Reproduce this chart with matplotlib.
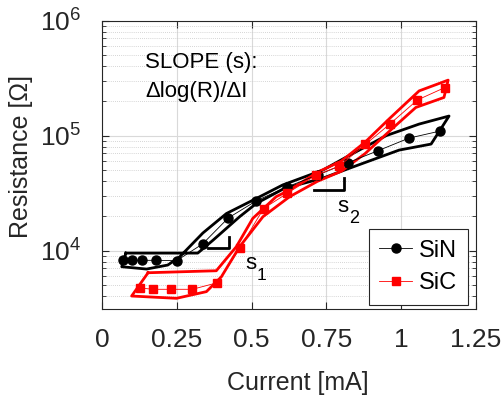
import numpy as np
import matplotlib
matplotlib.use("Agg")
import matplotlib.pyplot as plt
from matplotlib.ticker import LogLocator, NullFormatter, FixedLocator

# ── Dados ───────────────────────────────────────────────────────────────────
sin_i = [0.069, 0.099, 0.132, 0.180, 0.249, 0.336, 0.422, 0.516, 0.617,
         0.721, 0.821, 0.922, 1.026, 1.129]
sin_r = [8220, 8220, 8220, 8220, 8150, 11400, 19200, 27100, 35700,
         45400, 58000, 73800, 95100, 109400]

sic_i = [0.127, 0.171, 0.229, 0.302, 0.386, 0.460, 0.540, 0.620, 0.716,
         0.793, 0.880, 0.962, 1.054, 1.146]
sic_r = [4720, 4600, 4600, 4600, 5250, 10450, 23200, 31600, 45300,
         54300, 83700, 126000, 204000, 262000]

# envoltórias (duas curvas de contorno por material)
sin_env_a_i = [0.080, 0.320, 0.371, 0.460, 0.516, 0.610, 0.737, 0.827, 0.993, 1.100]
sin_env_a_r = [9500, 9500, 12300, 19700, 25700, 34800, 42500, 52000, 74800, 84400]
sin_env_b_i = [0.066, 0.149, 0.220, 0.260, 0.337, 0.416, 0.516, 0.604, 0.738,
               0.830, 0.900, 0.950, 1.060, 1.160]
sin_env_b_r = [7230, 6900, 7480, 8830, 14200, 21000, 28400, 37200, 50100,
               68000, 85000, 100000, 126000, 148000]

sic_env_a_i = [0.154, 0.382, 0.449, 0.504, 0.582, 0.627, 0.720, 0.800, 0.880,
               0.960, 1.060, 1.157]
sic_env_a_r = [6410, 6670, 10800, 19050, 29400, 33600, 48000, 60000, 88000,
               140000, 245000, 304000]
sic_env_b_i = [0.099, 0.249, 0.349, 0.399, 0.460, 0.538, 0.627, 0.720, 0.800,
               0.880, 0.971, 1.049, 1.143]
sic_env_b_r = [4020, 3840, 4390, 5910, 10800, 19700, 29400, 40000, 49000,
               70000, 115600, 175800, 214800]

# marcadores de inclinação
s1_i = [0.354, 0.424, 0.424]
s1_r = [10580, 10580, 13000]
s2_i = [0.707, 0.808, 0.808]
s2_r = [33600, 33600, 42400]

x_ticks = [0, 0.25, 0.5, 0.75, 1, 1.25]
x_labels = ["0", "0.25", "0.5", "0.75", "1", "1.25"]


def fechar(ai, ar, bi, br):
    xs = list(ai) + list(bi[::-1]) + [ai[0]]
    ys = list(ar) + list(br[::-1]) + [ar[0]]
    return xs, ys


plt.rcParams.update({
    "font.family": ["Liberation Sans", "DejaVu Sans"],
    "mathtext.fontset": "custom",
    "mathtext.rm": "Liberation Sans",
    "mathtext.default": "regular",
})

fig = plt.figure(figsize=(5.04, 4.0), dpi=100)
ax = fig.add_axes([0.2024, 0.2263, 0.7420, 0.7220])

RED = "#ff0000"
ax.plot(*fechar(sin_env_a_i, sin_env_a_r, sin_env_b_i, sin_env_b_r),
        color="black", lw=2.0, zorder=3)
ax.plot(*fechar(sic_env_a_i, sic_env_a_r, sic_env_b_i, sic_env_b_r),
        color=RED, lw=2.0, zorder=3)
ax.plot(sin_i, sin_r, "-o", color="black", lw=0.6, ms=6.5,
        label="SiN", zorder=4)
ax.plot(sic_i, sic_r, "-s", color=RED, lw=0.6, ms=5.5,
        label="SiC", zorder=4)

ax.plot(s1_i, s1_r, color="black", lw=2.0, zorder=3)
ax.plot(s2_i, s2_r, color="black", lw=2.0, zorder=3)

ax.set_yscale("log")
ax.set_xlim(0, 1.25)
ax.set_ylim(3070, 1e6)
ax.xaxis.set_major_locator(FixedLocator(x_ticks))
ax.set_xticklabels(x_labels)
ax.yaxis.set_major_locator(LogLocator(base=10, numticks=10))
ax.yaxis.set_minor_locator(LogLocator(base=10, subs=np.arange(2, 10), numticks=20))
ax.yaxis.set_minor_formatter(NullFormatter())

ax.grid(True, which="major", color="#d9d9d9", lw=0.8, zorder=0)
ax.grid(True, which="minor", axis="y", color="#c8c8c8", lw=0.6,
        linestyle=(0, (1, 1.5)), zorder=0)
ax.set_axisbelow(True)

ax.tick_params(which="both", direction="in", top=True, right=True,
               colors="#262626", labelcolor="#262626")
ax.tick_params(which="major", length=5, labelsize=19)
ax.tick_params(axis="x", pad=13)
ax.tick_params(axis="y", pad=15)
ax.tick_params(which="minor", length=3)
for sp in ax.spines.values():
    sp.set_color("#262626")
    sp.set_linewidth(0.8)

ax.set_xlabel("Current [mA]", fontsize=18, color="#262626")
ax.set_ylabel("Resistance [Ω]", fontsize=18, color="#262626")
ax.xaxis.set_label_coords(0.523, -0.212)
ax.yaxis.set_label_coords(-0.184, 0.529)

ax.text(0.115, 0.836, "SLOPE (s):", transform=ax.transAxes, fontsize=16,
        va="baseline", ha="left")
ax.text(0.115, 0.736, "Δlog(R)/ΔI", transform=ax.transAxes, fontsize=16,
        va="baseline", ha="left")

# rótulos s1 / s2 com subscrito manual
ax.text(0.382, 0.140, "s", transform=ax.transAxes, fontsize=16,
        va="baseline", ha="left")
ax.text(0.413, 0.102, "1", transform=ax.transAxes, fontsize=12.5,
        va="baseline", ha="left")
ax.text(0.629, 0.338, "s", transform=ax.transAxes, fontsize=16,
        va="baseline", ha="left")
ax.text(0.660, 0.298, "2", transform=ax.transAxes, fontsize=13,
        va="baseline", ha="left")

leg = ax.legend(loc="lower right", bbox_to_anchor=(0.979, 0.0156),
                borderaxespad=0, fontsize=17, fancybox=False,
                edgecolor="#262626", framealpha=1, handlelength=1.4,
                handletextpad=0.3, borderpad=0.45, labelspacing=0.45)
leg.get_frame().set_linewidth(0.8)

fig.savefig("out.png", dpi=100, facecolor="white")
